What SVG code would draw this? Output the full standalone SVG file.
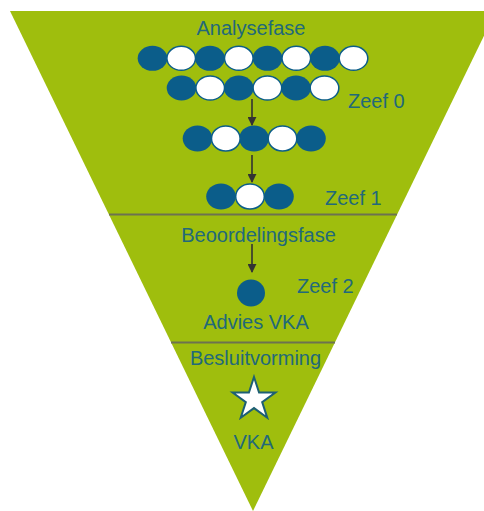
<svg xmlns="http://www.w3.org/2000/svg" width="484" height="511" viewBox="0 0 484 511">
  <defs>
    <style>
      .lbl { font-family: "Liberation Sans", Arial, sans-serif; font-size: 20px; fill: #22697a; }
      .mid { text-anchor: middle; }
      .dk { fill: #0b5d8a; }
      .wt { fill: #ffffff; stroke: #0b5d8a; stroke-width: 1.5; }
      .sep { stroke: #6d7250; stroke-width: 2; fill: none; }
      .arr { stroke: #333333; stroke-width: 1.6; fill: none; marker-end: url(#ah); }
    </style>
    <marker id="ah" viewBox="0 0 10 10" refX="9" refY="5" markerWidth="9" markerHeight="9" markerUnits="userSpaceOnUse" orient="auto">
      <path d="M0,0 L10,5 L0,10 Z" fill="#333333"/>
    </marker>
  </defs>

  <g id="funnel">
    <polygon points="10,11 496,11 253,511" fill="#9fbe0d"/>
    <line class="sep" x1="109" y1="214.5" x2="397" y2="214.5"/>
    <line class="sep" x1="171" y1="342.5" x2="335" y2="342.5"/>
  </g>

  <g id="analysefase">
    <text class="lbl mid" x="251" y="35">Analysefase</text>
    <g id="row1">
      <ellipse class="dk" cx="152.5" cy="58.3" rx="14.8" ry="12.5"/>
      <ellipse class="dk" cx="210" cy="58.3" rx="14.8" ry="12.5"/>
      <ellipse class="dk" cx="267.5" cy="58.3" rx="14.8" ry="12.5"/>
      <ellipse class="dk" cx="325" cy="58.3" rx="14.8" ry="12.5"/>
      <ellipse class="wt" cx="181.2" cy="58.3" rx="14.3" ry="12"/>
      <ellipse class="wt" cx="238.8" cy="58.3" rx="14.3" ry="12"/>
      <ellipse class="wt" cx="296.3" cy="58.3" rx="14.3" ry="12"/>
      <ellipse class="wt" cx="353.5" cy="58.3" rx="14.3" ry="12"/>
    </g>
    <g id="row2">
      <ellipse class="dk" cx="181.5" cy="88" rx="14.8" ry="12.5"/>
      <ellipse class="dk" cx="238.8" cy="88" rx="14.8" ry="12.5"/>
      <ellipse class="dk" cx="296" cy="88" rx="14.8" ry="12.5"/>
      <ellipse class="wt" cx="210.2" cy="88" rx="14.3" ry="12"/>
      <ellipse class="wt" cx="267.4" cy="88" rx="14.3" ry="12"/>
      <ellipse class="wt" cx="324.5" cy="88" rx="14.3" ry="12"/>
    </g>
    <text class="lbl" x="348" y="108">Zeef 0</text>
    <g id="row3">
      <ellipse class="dk" cx="197.5" cy="138.5" rx="14.8" ry="13"/>
      <ellipse class="dk" cx="254" cy="138.5" rx="14.8" ry="13"/>
      <ellipse class="dk" cx="311" cy="138.5" rx="14.8" ry="13"/>
      <ellipse class="wt" cx="225.8" cy="138.5" rx="14.3" ry="12.5"/>
      <ellipse class="wt" cx="282.5" cy="138.5" rx="14.3" ry="12.5"/>
    </g>
    <g id="row4">
      <ellipse class="dk" cx="221" cy="196.5" rx="14.8" ry="13"/>
      <ellipse class="dk" cx="279" cy="196.5" rx="14.8" ry="13"/>
      <ellipse class="wt" cx="250" cy="196.5" rx="14.3" ry="12.5"/>
    </g>
    <text class="lbl" x="325" y="205">Zeef 1</text>
  </g>

  <g id="beoordelingsfase">
    <text class="lbl mid" x="258.5" y="242">Beoordelingsfase</text>
    <ellipse class="dk" cx="251" cy="293" rx="14" ry="13.5"/>
    <text class="lbl" x="297" y="293">Zeef 2</text>
    <text class="lbl mid" x="256" y="329">Advies VKA</text>
  </g>

  <g id="besluitvorming">
    <text class="lbl mid" x="255.5" y="365">Besluitvorming</text>
    <polygon points="254,377 259.06,392.54 275.4,392.55 262.18,402.16 267.23,417.7 254,408.1 240.77,417.7 245.82,402.16 232.6,392.55 248.94,392.54" fill="#ffffff" stroke="#1d5f74" stroke-width="2" stroke-linejoin="miter"/>
    <text class="lbl mid" x="253.5" y="449">VKA</text>
  </g>

  <g id="connectors">
    <line class="arr" x1="252" y1="99" x2="252" y2="125"/>
    <line class="arr" x1="252" y1="155" x2="252" y2="182"/>
    <line class="arr" x1="252" y1="244" x2="252" y2="272"/>
  </g>
</svg>
